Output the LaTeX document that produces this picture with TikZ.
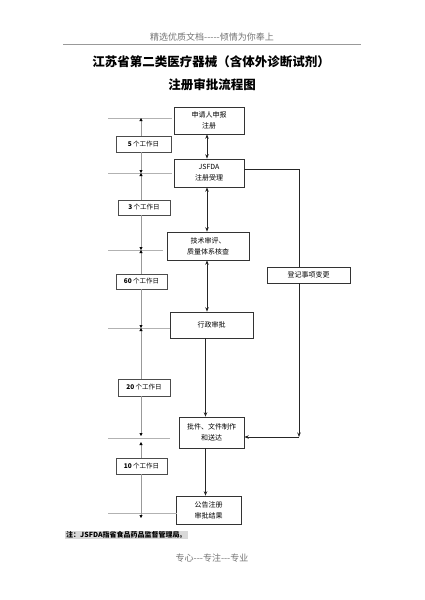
\documentclass[tikz,border=0pt]{standalone}
\usepackage{fontspec}
\setmainfont{Noto Sans CJK SC}
\usetikzlibrary{arrows.meta}
\begin{document}
\begin{tikzpicture}[x=1pt,y=-1pt,
  box/.style={draw=black!80,fill=white,line width=0.6pt,align=center,inner sep=0pt,
    font=\fontsize{7}{11}\selectfont},
  daybox/.style={draw=black!70,fill=white,line width=0.6pt,inner sep=0pt,
    font=\fontsize{6.5}{8}\selectfont},
  flow/.style={black!85,line width=0.7pt,-{Stealth[length=4.5pt,width=3.5pt]}},
  twoway/.style={black!85,line width=0.7pt,{Stealth[length=4.5pt,width=3.5pt]}-{Stealth[length=4.5pt,width=3.5pt]}},
  guide/.style={black!30,line width=0.5pt},
  dim/.style={black!40,line width=0.5pt,-{Triangle[length=3pt,width=3pt,color=black]}}]
\useasboundingbox (0,0) rectangle (424,600);

% header and title
\node[font=\fontsize{9}{9}\selectfont,text=black!55] (head) at (212,37) {精选优质文档-{}-{}-{}-{}-倾情为你奉上};
\draw[black!40,line width=0.5pt] (63,44) -- (361,44);
\node[font=\bfseries\fontsize{12.5}{14}\selectfont] (title) at (211,62) {江苏省第二类医疗器械（含体外诊断试剂）};
\node[font=\bfseries\fontsize{12.5}{14}\selectfont] (subtitle) at (212,85) {注册审批流程图};

% main steps
\node[box,minimum width=70,minimum height=27] (apply) at (209,120.5) {申请人申报\\注册};
\node[box,minimum width=70,minimum height=28] (accept) at (209,173) {JSFDA\\注册受理};
\node[box,minimum width=82,minimum height=28] (review) at (208,246) {技术审评、\\质量体系核查};
\node[box,minimum width=83,minimum height=26] (admin) at (211.5,325) {行政审批};
\node[box,minimum width=65,minimum height=31] (issue) at (211.5,432.5) {批件、文件制作\\和送达};
\node[box,minimum width=65,minimum height=28] (result) at (208.5,510) {公告注册\\审批结果};
\node[box,minimum width=83,minimum height=16] (change) at (308.5,275) {登记事项变更};

% working days
\node[daybox,minimum width=55,minimum height=16] (day5) at (143.5,144) {\textbf{5} 个工作日};
\node[daybox,minimum width=52,minimum height=15] (day3) at (144,207.5) {\textbf{3} 个工作日};
\node[daybox,minimum width=51,minimum height=15] (day60) at (141.5,281.5) {\textbf{60} 个工作日};
\node[daybox,minimum width=52,minimum height=17] (day20) at (144,387.5) {\textbf{20} 个工作日};
\node[daybox,minimum width=51,minimum height=16] (day10) at (141.5,466) {\textbf{10} 个工作日};

% flow
\coordinate (spine) at (207,0);
\coordinate (spine2) at (205.5,0);
\draw[twoway] (apply.south -| spine) -- (accept.north -| spine);
\draw[twoway] (accept.south -| spine) -- (review.north -| spine);
\draw[twoway] (review.south -| spine) -- (admin.north -| spine);
\draw[flow] (admin.south -| spine2) -- (issue.north -| spine2);
\draw[flow] (issue.south -| spine2) -- (result.north -| spine2);
\coordinate (turn) at (299,437);
\draw[black!85,line width=0.7pt] ([yshift=4pt]accept.east) -| (change.north -| turn);
\draw[flow] (change.south -| turn) -- (turn);
\draw[flow] (turn) -- (issue.east |- turn);

% time scale
\foreach \y/\r in {118/172,173/172,250/163,328/170,438/170,513/177}
  \draw[guide] (108,\y) -- (\r,\y);
\coordinate (t1) at (141,118);
\coordinate (t2) at (141,173);
\coordinate (t3) at (141,250);
\coordinate (t4) at (141,328);
\coordinate (t5a) at (141,436);
\coordinate (t5b) at (141,442);
\coordinate (t6) at (141,518);
\draw[dim] (day5.north -| t1) -- (t1);
\draw[dim] (day5.south -| t1) -- (t2);
\draw[dim] (day3.north -| t1) -- (t2);
\draw[dim] (day3.south -| t1) -- (t3);
\draw[dim] (day60.north -| t1) -- (t3);
\draw[dim] (day60.south -| t1) -- (t4);
\draw[dim] (day20.north -| t1) -- (t4);
\draw[dim] (day20.south -| t1) -- (t5a);
\draw[dim] (day10.north -| t1) -- (t5b);
\draw[dim] (day10.south -| t1) -- (t6);

% notes
\node[fill=black!15,inner sep=1pt,anchor=west,font=\bfseries\fontsize{7}{8}\selectfont] (note) at (65,535) {注：JSFDA指省食品药品监督管理局。};
\node[font=\fontsize{9}{9}\selectfont,text=black!55] (foot) at (212,558) {专心-{}-{}-专注-{}-{}-专业};
\end{tikzpicture}
\end{document}
